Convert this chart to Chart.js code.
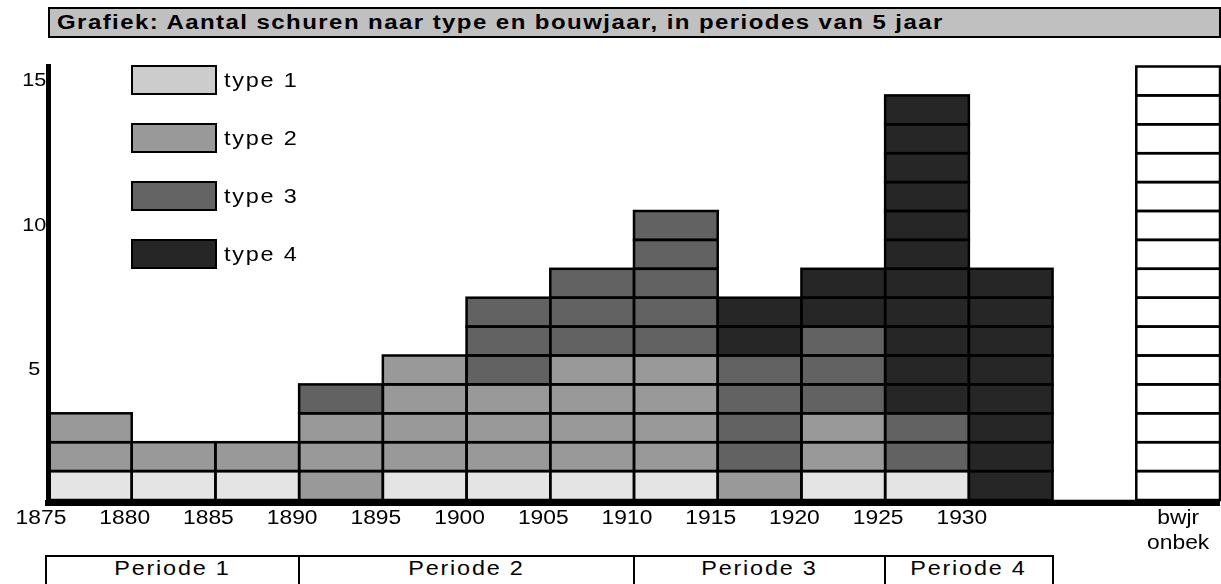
<!DOCTYPE html>
<html><head><meta charset="utf-8">
<script src="https://cdn.jsdelivr.net/npm/chart.js@4/dist/chart.umd.min.js"></script>
<style>
html,body{margin:0;padding:0;background:#fff;width:1221px;height:584px;overflow:hidden;position:relative;font-family:"Liberation Sans",Arial,sans-serif;color:#000;}
#wrap{position:absolute;left:0;top:0;width:1221px;height:555px;}
#title{position:absolute;left:48px;top:7px;width:1173px;height:31px;box-sizing:border-box;background:#c0c0c0;border:2px solid #000;font-weight:bold;font-size:20px;line-height:26px;padding-left:7px;white-space:nowrap;overflow:hidden;}
#title span{display:inline-block;letter-spacing:1.2px;transform:scaleX(1.2);transform-origin:0 50%;}
.leg-box{position:absolute;left:131px;width:86px;height:30px;box-sizing:border-box;border:2px solid #000;}
.leg-text{position:absolute;left:224px;height:30px;line-height:30px;font-size:19.5px;white-space:nowrap;}
.leg-text span{display:inline-block;letter-spacing:1.5px;transform:scaleX(1.2);transform-origin:0 50%;}
.period{position:absolute;top:555px;height:40px;box-sizing:border-box;border:2px solid #000;text-align:center;font-size:19.5px;line-height:23px;white-space:nowrap;background:#fff;}
.period span{display:inline-block;letter-spacing:1.5px;transform:scaleX(1.2);transform-origin:50% 50%;}
</style></head><body>
<div id="wrap"><canvas id="c" width="1221" height="555"></canvas></div>
<div id="title"><span>Grafiek: Aantal schuren naar type en bouwjaar, in periodes van 5 jaar</span></div>
<div id="legend"></div>
<div id="periods"></div>
<script>
// ---- data ----
const binLabels = ['1875','1880','1885','1890','1895','1900','1905','1910','1915','1920','1925','1930','','bwjr onbek'];
const yearTicks = [1875,1880,1885,1890,1895,1900,1905,1910,1915,1920,1925,1930];
const typeLabels = ['type 1','type 2','type 3','type 4'];
const type1 = [1,1,1,0,1,1,1,1,0,1,1,0,0,0];
const type2 = [2,1,1,3,4,3,4,4,1,2,0,0,0,0];
const type3 = [0,0,0,1,0,3,3,5,4,3,2,0,0,0];
const type4 = [0,0,0,0,0,0,0,0,2,2,11,8,0,0];
const unknownYear = [0,0,0,0,0,0,0,0,0,0,0,0,0,15];
const yTicks = [5,10,15];
const periodLabels = ['Periode 1','Periode 2','Periode 3','Periode 4'];
const periodStart = [1875,1890,1910,1925];
const periodEnd = [1890,1910,1925,1935];

// ---- styles ----
const barColors = ['#e4e4e4','#999999','#626262','#262626'];
const legendColors = ['#cccccc','#999999','#646464','#262626'];
const tickFont = {family:'"Liberation Sans", Arial, sans-serif', size:19.5, lineHeight:1.28};
const yTickFont = {family:'"Liberation Sans", Arial, sans-serif', size:18.5};
const TEXT_STRETCH = 1.17;
const YEAR_LABEL_SHIFT = -7;   // px, year labels sit just left of their boundary

const BIN_YEARS = 5;
const yearMin = yearTicks[0];
const yearMax = yearTicks[0] + BIN_YEARS * binLabels.length;
const unknownIdx = binLabels.indexOf('bwjr onbek');

// draw canvas text slightly wider, like the reference lettering
const stretchPlugin = {
  id:'stretch',
  beforeInit(chart){
    const ctx = chart.ctx;
    const orig = ctx.fillText.bind(ctx);
    ctx.fillText = function(t, x, y){
      ctx.save(); ctx.translate(x, y); ctx.scale(TEXT_STRETCH, 1); orig(t, 0, 0); ctx.restore();
    };
  }
};

const cellPlugin = {
  id:'cells',
  afterDatasetsDraw(chart){
    const ctx = chart.ctx, ys = chart.scales.y, area = chart.chartArea;
    ctx.save();
    ctx.strokeStyle = '#000';
    ctx.lineWidth = 2.5;
    chart.data.datasets.forEach((ds, di) => {
      const meta = chart.getDatasetMeta(di);
      meta.data.forEach((el, i) => {
        const v = ds.data[i];
        if (!v) return;
        const p = el.getProps(['x','y','base','width'], true);
        const l = p.x - p.width/2;
        const start = Math.round(ys.getValueForPixel(p.base));
        for (let k = 0; k < v; k++) {
          const top = ys.getPixelForValue(start + k + 1);
          const bot = ys.getPixelForValue(start + k);
          ctx.strokeRect(l, top, p.width, bot - top);
        }
      });
    });
    ctx.fillStyle = '#000';
    const y0 = ys.getPixelForValue(0);
    ctx.fillRect(area.left - 3, y0, area.right - area.left + 3, 6);
    ctx.restore();
  }
};

const typeData = [type1, type2, type3, type4];
const datasets = typeData.map((d, i) => ({
  label: typeLabels[i], data: d, backgroundColor: barColors[i], xAxisID: 'x', yAxisID: 'y',
  borderWidth: 0, barPercentage: 1, categoryPercentage: 1
}));
datasets.push({label:'bwjr onbekend', data: unknownYear, backgroundColor:'#ffffff', xAxisID: 'x', yAxisID: 'y',
  borderWidth:0, barPercentage:1, categoryPercentage:1});

const chart = new Chart(document.getElementById('c'), {
  type: 'bar',
  data: { labels: binLabels, datasets },
  plugins: [stretchPlugin, cellPlugin],
  options: {
    responsive: false, animation: false, devicePixelRatio: 1,
    layout: { padding: { top: 66.5, left: 0, right: 1, bottom: 0 } },
    plugins: { legend: { display: false }, tooltip: { enabled: false } },
    scales: {
      x: {
        type: 'category', stacked: true, position: 'bottom', offset: true, display: false
      },
      xYear: {
        type: 'linear', axis: 'x', position: 'bottom', offset: false,
        min: yearMin, max: yearMax,
        afterBuildTicks: s => {
          const t = yearTicks.map(v => ({ value: v }));
          // the "bouwjaar onbekend" column label is centred under its column
          const pxPerYear = s.width / (yearMax - yearMin);
          t.push({ value: yearMin + BIN_YEARS * (unknownIdx + 0.5) - YEAR_LABEL_SHIFT / pxPerYear, unknown: true });
          s.ticks = t;
        },
        ticks: { font: tickFont, color: '#000', labelOffset: YEAR_LABEL_SHIFT, padding: 6, autoSkip: false, maxRotation: 0,
          callback: (v, i, ts) => ts[i].unknown ? binLabels[unknownIdx].split(' ') : String(v) },
        grid: { display: false, drawTicks: false, offset: false }, border: { display: false },
        afterFit: s => { s.height = 55; }
      },
      y: {
        stacked: true, min: 0, max: 15,
        afterBuildTicks: s => { s.ticks = yTicks.map(v => ({ value: v })); },
        ticks: { font: yTickFont, color: '#000', crossAlign: 'center', labelOffset: 14.5, padding: 3.5,
          callback: v => String(v) },
        grid: { display: false, drawTicks: false },
        border: { display: true, color: '#000', width: 5, z: 1 },
        afterFit: s => { s.width = 48; }
      }
    }
  }
});

// legend
const leg = document.getElementById('legend');
typeLabels.forEach((t, i) => {
  const top = 65 + i * 58;
  const b = document.createElement('div');
  b.className = 'leg-box'; b.style.top = top + 'px'; b.style.background = legendColors[i];
  leg.appendChild(b);
  const s = document.createElement('div');
  s.className = 'leg-text'; s.style.top = top + 'px';
  const sp = document.createElement('span'); sp.textContent = t; s.appendChild(sp);
  leg.appendChild(s);
});

// period table aligned with the year scale
const xs = chart.scales.xYear;
const per = document.getElementById('periods');
periodLabels.forEach((p, i) => {
  let l = xs.getPixelForValue(periodStart[i]) - 1;
  const r = xs.getPixelForValue(periodEnd[i]) + 1;
  if (i === 0) l = chart.chartArea.left - 3;
  const d = document.createElement('div');
  d.className = 'period'; d.style.left = l + 'px'; d.style.width = (r - l) + 'px';
  const sp = document.createElement('span'); sp.textContent = p; d.appendChild(sp);
  per.appendChild(d);
});
</script>
</body></html>
